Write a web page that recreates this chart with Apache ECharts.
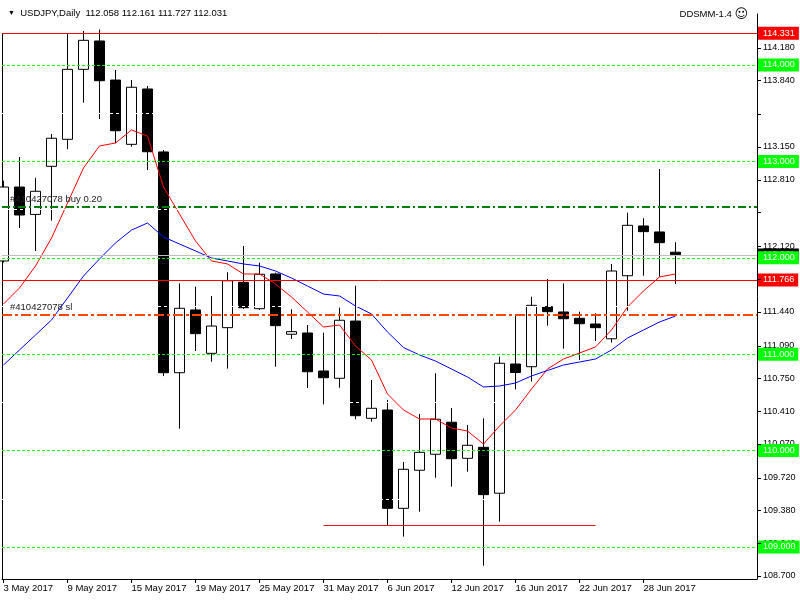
<!DOCTYPE html>
<html>
<head>
<meta charset="utf-8">
<script src="https://cdn.jsdelivr.net/npm/echarts@6/dist/echarts.min.js"></script>
<style>
html, body { margin: 0; padding: 0; background: #fff; }
#chart { width: 800px; height: 600px; }
</style>
</head>
<body>
<div id="chart"></div>
<script>
// trading days, one per candle
var dates = ['3 May 2017', '4 May 2017', '5 May 2017', '8 May 2017', '9 May 2017', '10 May 2017', '11 May 2017',
    '12 May 2017', '15 May 2017', '16 May 2017', '17 May 2017', '18 May 2017', '19 May 2017', '22 May 2017',
    '23 May 2017', '24 May 2017', '25 May 2017', '26 May 2017', '29 May 2017', '30 May 2017', '31 May 2017',
    '1 Jun 2017', '2 Jun 2017', '5 Jun 2017', '6 Jun 2017', '7 Jun 2017', '8 Jun 2017', '9 Jun 2017',
    '12 Jun 2017', '13 Jun 2017', '14 Jun 2017', '15 Jun 2017', '16 Jun 2017', '19 Jun 2017', '20 Jun 2017',
    '21 Jun 2017', '22 Jun 2017', '23 Jun 2017', '26 Jun 2017', '27 Jun 2017', '28 Jun 2017', '29 Jun 2017',
    '30 Jun 2017'];
//OHLC
var opens = [111.967, 112.734, 112.450, 112.949, 113.229, 113.955, 114.249, 113.844, 113.177, 113.751,
    113.098, 110.808, 111.459, 111.009, 111.275, 111.746, 111.472, 111.832, 111.207, 111.220,
    110.826, 110.750, 111.344, 110.335, 110.421, 109.401, 109.796, 109.962, 110.294, 109.920,
    110.034, 109.558, 110.898, 110.870, 111.493, 111.438, 111.372, 111.313, 111.160, 111.814,
    112.330, 112.268, 112.058];
var highs = [112.800, 113.046, 112.830, 113.284, 114.331, 114.353, 114.368, 113.948, 113.844, 113.782,
    113.118, 111.735, 111.700, 111.604, 111.850, 112.122, 111.949, 111.846, 111.466, 111.303,
    111.223, 111.482, 111.711, 110.732, 110.525, 109.882, 110.380, 110.802, 110.442, 110.266,
    110.335, 110.974, 111.410, 111.596, 111.780, 111.735, 111.441, 111.424, 111.936, 112.468,
    112.410, 112.921, 112.161];
var lows = [111.950, 112.309, 112.070, 112.385, 113.126, 113.609, 113.440, 113.188, 113.153, 112.911,
    110.773, 110.227, 111.033, 110.922, 110.850, 111.469, 111.459, 110.870, 111.158, 110.650,
    110.480, 110.652, 110.325, 110.300, 109.228, 109.107, 109.366, 109.719, 109.626, 109.781,
    108.806, 109.263, 110.634, 110.715, 111.296, 111.057, 110.940, 111.137, 111.120, 111.451,
    111.814, 111.804, 111.727];
var closes = [112.734, 112.444, 112.690, 113.240, 113.955, 114.256, 113.837, 113.318, 113.769, 113.100,
    110.808, 111.476, 111.213, 111.292, 111.762, 111.482, 111.829, 111.296, 111.234, 110.818,
    110.756, 111.352, 110.362, 110.439, 109.401, 109.806, 109.982, 110.325, 109.916, 110.055,
    109.543, 110.906, 110.810, 111.507, 111.441, 111.368, 111.316, 111.275, 111.863, 112.337,
    112.271, 112.157, 112.031];
// moving averages (red, blue)
var maRed = [111.521, 111.687, 111.915, 112.205, 112.568, 112.932, 113.160, 113.191, 113.326, 113.263,
    112.734, 112.454, 112.174, 111.967, 111.936, 111.832, 111.832, 111.728, 111.593, 111.438,
    111.282, 111.303, 111.085, 110.940, 110.587, 110.421, 110.328, 110.328, 110.234, 110.203,
    110.068, 110.255, 110.421, 110.639, 110.846, 110.950, 111.012, 111.075, 111.251, 111.490,
    111.656, 111.801, 111.832];
var maBlue = [110.888, 111.044, 111.199, 111.355, 111.583, 111.811, 111.988, 112.154, 112.288, 112.361,
    112.216, 112.143, 112.071, 111.998, 111.967, 111.936, 111.915, 111.863, 111.790, 111.707,
    111.624, 111.604, 111.500, 111.417, 111.230, 111.069, 110.992, 110.929, 110.846, 110.763,
    110.660, 110.670, 110.701, 110.774, 110.831, 110.888, 110.919, 110.950, 111.044, 111.168,
    111.251, 111.334, 111.396];

// axis ticks
var dateTicks = [0, 4, 8, 12, 16, 20, 24, 28, 32, 36, 40];
var priceTicks = [108.70, 109.04, 109.38, 109.72, 110.07, 110.41, 110.75, 111.09, 111.44, 111.78,
    112.12, 112.47, 112.81, 113.15, 113.49, 113.84, 114.18];
var priceLabels = [108.70, 109.04, 109.38, 109.72, 110.07, 110.41, 110.75, 111.09, 111.44,
    112.12, 112.81, 113.15, 113.84, 114.18];

// horizontal levels
var greenLevels = [114, 113, 112, 111, 110, 109];
var redLevels = [114.331, 111.766];
var halfLevels = [113.5, 112.5, 111.5, 110.5, 109.5];
var bidPrice = 112.031;
var buyLevel = 112.53;
var slLevel = 111.408;
var supportLevel = 109.228;
var supportFrom = 20, supportTo = 37;

var FONT = 'Liberation Sans';
var X_MIN = -0.09375, X_MAX = 47.09375;

var candleData = [];
for (var i = 0; i < dates.length; i++) {
    candleData.push([i, opens[i], closes[i], lows[i], highs[i]]);
}
function pairs(arr) {
    var out = [];
    for (var i = 0; i < arr.length; i++) out.push([i, arr[i]]);
    return out;
}
function priceBox(v, bg) {
    return {
        yAxis: v,
        label: {
            show: true, position: 'end', distance: 1,
            formatter: v.toFixed(3),
            color: '#fff', backgroundColor: bg,
            fontFamily: FONT, fontSize: 9, lineHeight: 11,
            padding: [1, 4, 1, 5]
        }
    };
}

var myChart = echarts.init(document.getElementById('chart'));
var option = {
    animation: false,
    backgroundColor: '#fff',
    title: [{
        left: 3, top: 3,
        text: '{t|▼}  USDJPY,Daily  112.058 112.161 111.727 112.031',
        textStyle: {
            fontFamily: FONT, fontSize: 9.5, fontWeight: 'normal', color: '#000',
            rich: { t: { fontSize: 7, color: '#000' } }
        }
    }, {
        right: 47, top: 3,
        text: 'DDSMM-1.4 {s|☺}',
        textStyle: {
            fontFamily: FONT, fontSize: 9.5, fontWeight: 'normal', color: '#000',
            rich: { s: { fontSize: 13, color: '#000', fontFamily: 'DejaVu Sans' } }
        }
    }],
    grid: { left: 2, right: 43, top: 14, bottom: 21 },
    xAxis: {
        type: 'value',
        min: X_MIN,
        max: X_MAX,
        splitLine: { show: false },
        axisLine: { show: true, onZero: false, lineStyle: { color: '#000', width: 1 } },
        axisTick: { show: true, length: 4, customValues: dateTicks, lineStyle: { color: '#000' } },
        axisLabel: {
            customValues: dateTicks,
            formatter: function (v) { return dates[Math.round(v)]; },
            align: 'left', margin: 4,
            fontFamily: FONT, fontSize: 9.5, color: '#000'
        }
    },
    yAxis: {
        type: 'value',
        position: 'right',
        min: 108.668,
        max: 114.529,
        scale: true,
        splitLine: { show: false },
        axisLine: { show: true, onZero: false, lineStyle: { color: '#000', width: 1 } },
        axisTick: { show: false },
        axisLabel: {
            customValues: priceLabels,
            formatter: function (v) { return v.toFixed(3); },
            margin: 6,
            fontFamily: FONT, fontSize: 9, color: '#000'
        }
    },
    graphic: [{
        type: 'line', silent: true,
        shape: { x1: 2.5, y1: 33, x2: 2.5, y2: 579 },
        style: { stroke: '#000', lineWidth: 1 }
    }],
    series: [
        {
            // trade levels, behind the candles
            type: 'line', data: [], z: 1, silent: true,
            markLine: {
                silent: true, symbol: ['none', 'none'], animation: false,
                data: [
                    {
                        yAxis: buyLevel,
                        lineStyle: { color: '#008000', width: 2, type: [8, 3, 2, 3] },
                        label: {
                            show: true, position: 'insideStartTop', distance: [8, 2],
                            formatter: '#410427078 buy 0.20',
                            color: '#202020', fontFamily: FONT, fontSize: 9.5
                        }
                    },
                    {
                        yAxis: slLevel,
                        lineStyle: { color: '#ff4500', width: 2, type: [10, 3, 3, 3] },
                        label: {
                            show: true, position: 'insideStartTop', distance: [8, 2],
                            formatter: '#410427078 sl',
                            color: '#202020', fontFamily: FONT, fontSize: 9.5
                        }
                    }
                ]
            }
        },
        {
            type: 'candlestick',
            z: 2,
            barWidth: 10,
            encode: { x: 0, y: [1, 2, 3, 4] },
            data: candleData,
            itemStyle: {
                color: '#fff', color0: '#000',
                borderColor: '#000', borderColor0: '#000', borderWidth: 1
            }
        },
        {
            // hidden half grid, white dashes over the candles
            type: 'line', data: [], z: 3, silent: true,
            markLine: {
                silent: true, symbol: ['none', 'none'], animation: false,
                label: { show: false },
                lineStyle: { color: '#fff', width: 1, type: [3, 3] },
                data: halfLevels.map(function (v) { return { yAxis: v }; })
            }
        },
        {
            name: 'MA red', type: 'line', z: 4, data: pairs(maRed),
            showSymbol: false, symbol: 'none',
            lineStyle: { color: '#ff0000', width: 1 }
        },
        {
            name: 'MA blue', type: 'line', z: 4, data: pairs(maBlue),
            showSymbol: false, symbol: 'none',
            lineStyle: { color: '#0000ff', width: 1 }
        },
        {
            // bid line + support
            type: 'line', data: [], z: 5, silent: true,
            markLine: {
                silent: true, symbol: ['none', 'none'], animation: false,
                data: [
                    (function () {
                        var b = priceBox(bidPrice, '#000');
                        b.lineStyle = { color: '#c0c0c0', width: 1, type: 'solid' };
                        return b;
                    })(),
                    [
                        { coord: [supportFrom, supportLevel], lineStyle: { color: '#e01c1c', width: 1, type: 'solid' }, label: { show: false } },
                        { coord: [supportTo, supportLevel] }
                    ]
                ]
            }
        },
        {
            type: 'line', data: [], z: 6, silent: true,
            markLine: {
                silent: true, symbol: ['none', 'none'], animation: false,
                data: greenLevels.map(function (v) {
                    var b = priceBox(v, '#00ff00');
                    b.lineStyle = { color: '#00ff00', width: 1, type: [3, 2] };
                    return b;
                }).concat(redLevels.map(function (v) {
                    var b = priceBox(v, '#ff0000');
                    b.lineStyle = { color: '#ff0000', width: 1, type: 'solid' };
                    return b;
                }))
            }
        },
        {
            // price axis ticks, right of the axis line
            type: 'custom', z: 7, silent: true, clip: false,
            encode: { x: 0, y: 1 },
            data: priceTicks.map(function (v) { return [X_MAX, v]; }),
            renderItem: function (params, api) {
                var p = api.coord([api.value(0), api.value(1)]);
                var y = Math.round(p[1]) + 0.5;
                return {
                    type: 'line',
                    shape: { x1: p[0], y1: y, x2: p[0] + 4, y2: y },
                    style: { stroke: '#000', lineWidth: 1 }
                };
            }
        }
    ]
};
myChart.setOption(option);
</script>
</body>
</html>
